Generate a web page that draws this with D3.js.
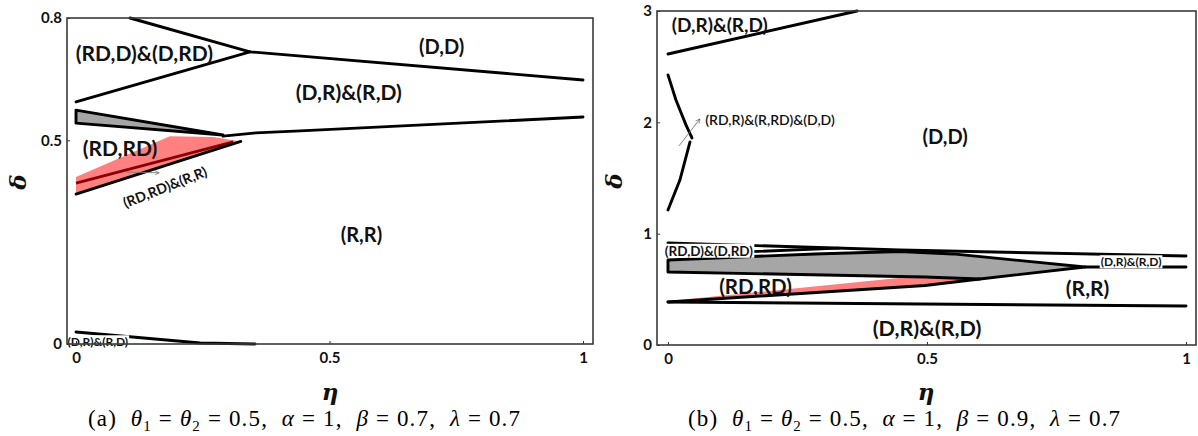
<!DOCTYPE html>
<html lang="en">
<head>
    <meta charset="UTF-8">
    <script src="https://cdnjs.cloudflare.com/ajax/libs/d3/7.8.5/d3.min.js" type="text/JavaScript"></script>
    <style>
        body { margin: 0; background: #fff; }
        svg { display: block; }
        .tick text {
            font-family: Lato, "Open Sans", sans-serif;
            font-weight: bold;
            font-size: 15px;
            fill: #111;
        }
        .tick line { stroke: #333; stroke-width: 1px; }
        .frame { fill: none; stroke: #3a3a3a; stroke-width: 1.6px; }
        .bound { fill: none; stroke: #000; stroke-width: 2.9px; stroke-linejoin: round; stroke-linecap: round; }
        .lbl { font-family: Lato, "Open Sans", sans-serif; font-weight: bold; fill: #111; }
        .axtitle { font-family: "DejaVu Serif", serif; font-style: italic; font-weight: bold; font-size: 23px; fill: #111; }
        .caption { font-family: "Liberation Serif", serif; font-size: 23px; fill: #000; }
        .caption tspan { fill: #000; }
        .caption .m { font-style: italic; }
    </style>
</head>
<body>
<svg id="chart" width="1198" height="436"></svg>
<script>
    // ---- panel (a): theta1 = theta2 = 0.5, alpha = 1, beta = 0.7, lambda = 0.7
    const etaTicksA = [0, 0.5, 1];
    const deltaTicksA = [0, 0.5, 0.8];
    const aUpperCurve = [[0.1065, 0.800], [0.343, 0.717], [1.0, 0.648]];
    const aLowerBranch = [[0, 0.594], [0.343, 0.717]];
    const aGrayWedge = [[0, 0.574], [0.290, 0.513], [0, 0.542]];
    const aMidCurve = [[0.29, 0.510], [0.355, 0.518], [0.442, 0.523], [1.0, 0.557]];
    const aRedWedge = [[0, 0.410], [0.185, 0.510], [0.270, 0.508], [0.325, 0.497], [0, 0.368]];
    const aRedInner = [[0, 0.395], [0.31, 0.496]];
    const aRedEdge = [[0, 0.368], [0.325, 0.497]];
    const aBottomCurve = [[0, 0.0294], [0.245, 0.0025], [0.353, 0]];
    const aArrow = [[0.0986, 0.422], [0.164, 0.420]];
    const aLabels = [
        {text: "(RD,D)&(D,RD)", x: 0.135, y: 0.712, size: 21},
        {text: "(D,D)", x: 0.721, y: 0.729, size: 20},
        {text: "(D,R)&(R,D)", x: 0.538, y: 0.618, size: 21},
        {text: "(RD,RD)", x: 0.0868, y: 0.481, size: 21},
        {text: "(R,R)", x: 0.563, y: 0.2675, size: 20},
        {text: "(RD,RD)&(R,R)", x: 0.1755, y: 0.385, size: 14, rotate: -21.5},
        {text: "(D,R)&(R,D)", x: 0.043, y: 0.005, size: 12, bg: true}
    ];

    // ---- panel (b): theta1 = theta2 = 0.5, alpha = 1, beta = 0.9, lambda = 0.7
    const etaTicksB = [0, 0.5, 1];
    const deltaTicksB = [0, 1, 2, 3];
    const bTopLine = [[0, 2.614], [0.365, 3.0]];
    const bUpperArc = [[0, 2.426], [0.0154, 2.201], [0.0347, 1.977], [0.0463, 1.860]];
    const bLowerArc = [[0.0425, 1.824], [0.023, 1.482], [0, 1.213]];
    const bBandTop = [[0, 0.917], [0.448, 0.853], [1.0, 0.800]];
    const bBandInner = [[0, 0.809], [0.33, 0.870]];
    const bGray = [[0, 0.764], [0.284, 0.818], [0.448, 0.840], [0.550, 0.818], [0.805, 0.701],
                   [0.602, 0.593], [0.496, 0.611], [0, 0.656]];
    const bTipLine = [[0.805, 0.701], [1.0, 0.701]];
    const bRed = [[0, 0.395], [0.45, 0.603], [0.496, 0.609], [0.602, 0.593], [0.496, 0.535], [0, 0.386]];
    const bRedEdge = [[0, 0.386], [0.496, 0.535], [0.602, 0.593]];
    const bBottomLine = [[0, 0.386], [1.0, 0.350]];
    const bArrow = [[0.0212, 1.788], [0.0618, 2.031]];
    const bLabels = [
        {text: "(D,R)&(R,D)", x: 0.100, y: 2.875, size: 19},
        {text: "(RD,R)&(R,RD)&(D,D)", x: 0.197, y: 2.02, size: 14, weight: 600},
        {text: "(D,D)", x: 0.535, y: 1.869, size: 20},
        {text: "(RD,D)&(D,RD)", x: 0.079, y: 0.845, size: 13.5, bg: true},
        {text: "(RD,RD)", x: 0.169, y: 0.521, size: 20.5},
        {text: "(R,R)", x: 0.810, y: 0.512, size: 21},
        {text: "(D,R)&(R,D)", x: 0.894, y: 0.746, size: 12, bg: true},
        {text: "(D,R)&(R,D)", x: 0.5, y: 0.153, size: 21.5}
    ];

    const svg = d3.select("#chart");

    svg.append("defs").append("marker")
        .attr("id", "arr")
        .attr("viewBox", "0 0 10 10")
        .attr("refX", 9).attr("refY", 5)
        .attr("markerWidth", 6).attr("markerHeight", 6)
        .attr("orient", "auto")
        .append("path")
        .attr("d", "M1,1 L9,5 L1,9")
        .attr("fill", "none")
        .attr("stroke", "#666")
        .attr("stroke-width", 1.2);

    const panels = [
        {
            box: {x0: 67, x1: 593, y0: 18, y1: 344},
            xDom: [-0.0178, 1.0197], yDom: [0, 0.8],
            xTicks: etaTicksA, yTicks: deltaTicksA,
            grays: [aGrayWedge], reds: [aRedWedge],
            darkLines: [aRedInner],
            lines: [aUpperCurve, aLowerBranch, aMidCurve, aRedEdge, aBottomCurve],
            outlined: [aGrayWedge],
            arrow: aArrow, labels: aLabels,
            deltaPos: [18, 182], etaPos: [330, 392],
            caption: {cx: 304, tag: "(a)", beta: "0.7"}
        },
        {
            box: {x0: 657, x1: 1196, y0: 11, y1: 345},
            xDom: [-0.0212, 1.0193], yDom: [0, 3],
            xTicks: etaTicksB, yTicks: deltaTicksB,
            grays: [bGray], reds: [bRed],
            darkLines: [],
            lines: [bTopLine, bUpperArc, bLowerArc, bBandTop, bBandInner, bTipLine, bRedEdge, bBottomLine],
            outlined: [bGray],
            arrow: bArrow, labels: bLabels,
            deltaPos: [614, 181], etaPos: [926, 392],
            caption: {cx: 904, tag: "(b)", beta: "0.9"}
        }
    ];

    panels.forEach(p => drawPanel(p));

    function drawPanel(p) {
        const x = d3.scaleLinear().domain(p.xDom).range([p.box.x0, p.box.x1]);
        const y = d3.scaleLinear().domain(p.yDom).range([p.box.y1, p.box.y0]);

        const line = d3.line().x(d => x(d[0])).y(d => y(d[1]));
        const g = svg.append("g");

        g.selectAll("path.red").data(p.reds).enter().append("path")
            .attr("d", d => line(d) + "Z")
            .attr("fill", "#ff8080");

        g.selectAll("path.gray").data(p.grays).enter().append("path")
            .attr("d", d => line(d) + "Z")
            .attr("fill", "#a6a6a6");

        g.selectAll("path.dark").data(p.darkLines).enter().append("path")
            .attr("d", line)
            .attr("fill", "none")
            .attr("stroke", "#8b0000")
            .attr("stroke-width", 2.8);

        g.selectAll("path.outl").data(p.outlined).enter().append("path")
            .attr("class", "bound")
            .attr("d", d => line(d) + "Z");

        g.selectAll("path.ln").data(p.lines).enter().append("path")
            .attr("class", "bound")
            .attr("d", line);

        g.append("path")
            .attr("d", line(p.arrow))
            .attr("stroke", "#777")
            .attr("stroke-width", 0.9)
            .attr("fill", "none")
            .attr("marker-end", "url(#arr)");

        // labels
        const lg = g.selectAll("g.lbl").data(p.labels).enter().append("g")
            .attr("transform", d => `translate(${x(d.x)},${y(d.y)})` + (d.rotate ? ` rotate(${d.rotate})` : ""));
        lg.append("text")
            .attr("class", "lbl")
            .attr("text-anchor", "middle")
            .attr("dy", "0.36em")
            .style("font-size", d => d.size + "px")
            .style("font-weight", d => d.weight || 700)
            .text(d => d.text);
        lg.filter(d => d.bg).each(function () {
            const t = d3.select(this).select("text");
            const bb = t.node().getBBox();
            d3.select(this).insert("rect", "text")
                .attr("x", bb.x - 1).attr("y", bb.y + 1)
                .attr("width", bb.width + 2).attr("height", bb.height - 2)
                .attr("fill", "#fff");
        });

        // axes
        const ax = g.append("g")
            .attr("transform", `translate(0,${p.box.y1})`)
            .call(d3.axisBottom(x).tickValues(p.xTicks).tickSize(-3).tickSizeOuter(0)
                .tickPadding(8).tickFormat(d3.format("~g")));
        ax.select(".domain").remove();

        const ay = g.append("g")
            .attr("transform", `translate(${p.box.x0},0)`)
            .call(d3.axisLeft(y).tickValues(p.yTicks).tickSize(-3).tickSizeOuter(0)
                .tickPadding(5).tickFormat(d3.format("~g")));
        ay.select(".domain").remove();

        g.append("rect")
            .attr("class", "frame")
            .attr("x", p.box.x0).attr("y", p.box.y0)
            .attr("width", p.box.x1 - p.box.x0)
            .attr("height", p.box.y1 - p.box.y0);

        g.append("text")
            .attr("class", "axtitle")
            .attr("transform", `translate(${p.deltaPos[0]},${p.deltaPos[1]}) rotate(-90)`)
            .attr("text-anchor", "middle")
            .attr("dy", "0.35em")
            .text("δ");

        g.append("text")
            .attr("class", "axtitle")
            .attr("x", p.etaPos[0]).attr("y", p.etaPos[1])
            .attr("text-anchor", "middle")
            .attr("dy", "0.35em")
            .text("η");

        const cap = g.append("text")
            .attr("class", "caption")
            .attr("x", p.caption.cx).attr("y", 426)
            .attr("text-anchor", "middle")
            .attr("textLength", 432)
            .attr("lengthAdjust", "spacing")
            .attr("xml:space", "preserve");
        const parts = [
            [p.caption.tag + "  ", ""],
            ["θ", "m"], ["1", "sub"], [" = ", ""],
            ["θ", "m"], ["2", "sub"], [" = 0.5,  ", ""],
            ["α", "m"], [" = 1,  ", ""],
            ["β", "m"], [" = " + p.caption.beta + ",  ", ""],
            ["λ", "m"], [" = 0.7", ""]
        ];
        let prevSub = false;
        parts.forEach(([s, cls]) => {
            const ts = cap.append("tspan").text(s);
            if (cls === "m") ts.attr("class", "m");
            if (cls === "sub") ts.attr("dy", 5).style("font-size", "15px");
            else ts.attr("dy", prevSub ? -5 : 0);
            prevSub = cls === "sub";
        });
    }
</script>
</body>
</html>
